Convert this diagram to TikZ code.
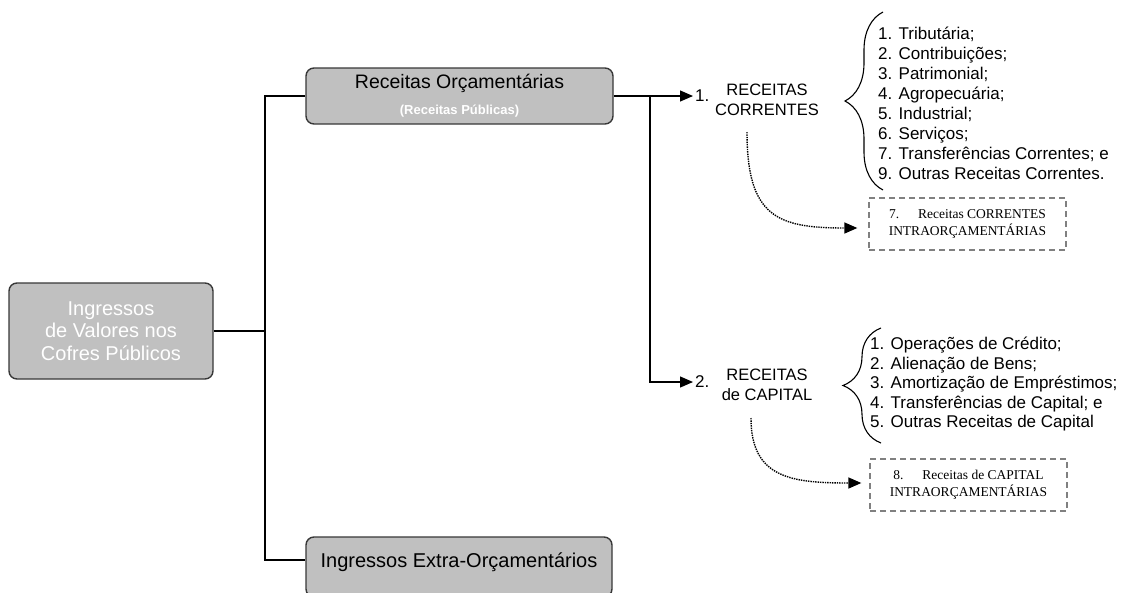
\documentclass[tikz,border=0pt]{standalone}
\usepackage{fontspec}
\setmainfont{Liberation Sans}
\newfontfamily\serifa{Liberation Serif}
\usetikzlibrary{positioning, arrows.meta, decorations.pathreplacing}
\definecolor{cinza}{HTML}{C0C0C0}
\definecolor{borda}{HTML}{383838}
\definecolor{tracejado}{HTML}{808080}
\tikzset{main node/.style={rectangle, rounded corners=8pt, draw=borda, line width=1.4pt, fill=cinza, align=center, inner sep=4pt},
  intra node/.style={rectangle, draw=tracejado, line width=1.3pt, dash pattern=on 6pt off 4pt, align=center, font=\serifa\fontsize{13.5}{17}\selectfont, minimum width=197pt, minimum height=52pt},
  list node/.style={align=left, font=\fontsize{17}{20}\selectfont, inner sep=4pt, anchor=west},
  tree/.style={line width=2.2pt},
  branch/.style={line width=1.2pt, -{Triangle[length=13pt,width=11pt]}},
  dots/.style={line width=1.4pt, densely dotted, -{Triangle[length=13pt,width=11pt]}},
  curly/.style={line width=1.1pt, decorate, decoration={brace, amplitude=38pt}},
}

\begin{document}
\begin{tikzpicture}[x=1pt, y=-1pt]
        \useasboundingbox (0,0) rectangle (1125,592);
        % Nodes
        \node[main node, minimum width=204pt, minimum height=96pt, text=white, font=\fontsize{20}{22.5}\selectfont] (ingressos) at (111,331) {Ingressos\\de Valores nos\\Cofres Públicos};
        \node[main node, minimum width=307pt, minimum height=56pt, font=\fontsize{19.5}{22}\selectfont] (orcamentarias) at (459.5,96) {Receitas Orçamentárias\\[4pt]{\fontsize{13}{14}\selectfont\bfseries\color{white}(Receitas Públicas)}};
        \node[main node, minimum width=306pt, text height=26pt, text depth=26pt, anchor=base, font=\fontsize{20}{22}\selectfont] (extra) at (459,567) {Ingressos Extra-Orçamentários};
        \node[font=\fontsize{17}{20}\selectfont, inner sep=2pt, anchor=west] (num1) at (693,96) {1.};
        \node[font=\fontsize{16.5}{20}\selectfont, align=center] (correntes) at (767,100) {RECEITAS\\CORRENTES};
        \node[font=\fontsize{17}{20}\selectfont, inner sep=2pt, anchor=west] (num2) at (693,382) {2.};
        \node[font=\fontsize{16.5}{20}\selectfont, align=center] (capital) at (767,385) {RECEITAS\\de CAPITAL};
        \node[list node] (lista1) at (874,103) {1. Tributária;\\2. Contribuições;\\3. Patrimonial;\\4. Agropecuária;\\5. Industrial;\\6. Serviços;\\7. Transferências Correntes; e\\9. Outras Receitas Correntes.};
        \node[list node, font=\fontsize{17}{19.5}\selectfont] (lista2) at (866,384) {1. Operações de Crédito;\\2. Alienação de Bens;\\3. Amortização de Empréstimos;\\4. Transferências de Capital; e\\5. Outras Receitas de Capital};
        \node[intra node] (intra1) at (967.5,224) {7.\hspace{1.4em}Receitas CORRENTES\\INTRAORÇAMENTÁRIAS};
        \node[intra node] (intra2) at (968.5,485) {8.\hspace{1.4em}Receitas de CAPITAL\\INTRAORÇAMENTÁRIAS};
        \coordinate (tronco) at (265,331);
        \coordinate (ramo) at (265,560);
        \coordinate (bifurca) at (650,96);
        \coordinate (c1) at (747,132);
        \coordinate (c2) at (751,418);
        % Paths
        \draw[tree] (ingressos.east) -- (tronco);
        \draw[tree] (orcamentarias.west) -| (ramo) -- (ramo -| extra.west);
        \draw[branch] (orcamentarias.east) -- (num1.west);
        \draw[branch] (bifurca) |- (num2.west);
        \draw[dots] (c1) .. controls +(0,85) and +(-80,0) .. ([xshift=-11pt,yshift=-4pt]intra1.west);
        \draw[dots] (c2) .. controls +(0,60) and +(-70,0) .. ([xshift=-8pt,yshift=2pt]intra2.west);
        % Braces
        \draw[curly] (883,190) -- (883,12);
        \draw[curly] (881,443) -- (881,328);
\end{tikzpicture}
\end{document}
